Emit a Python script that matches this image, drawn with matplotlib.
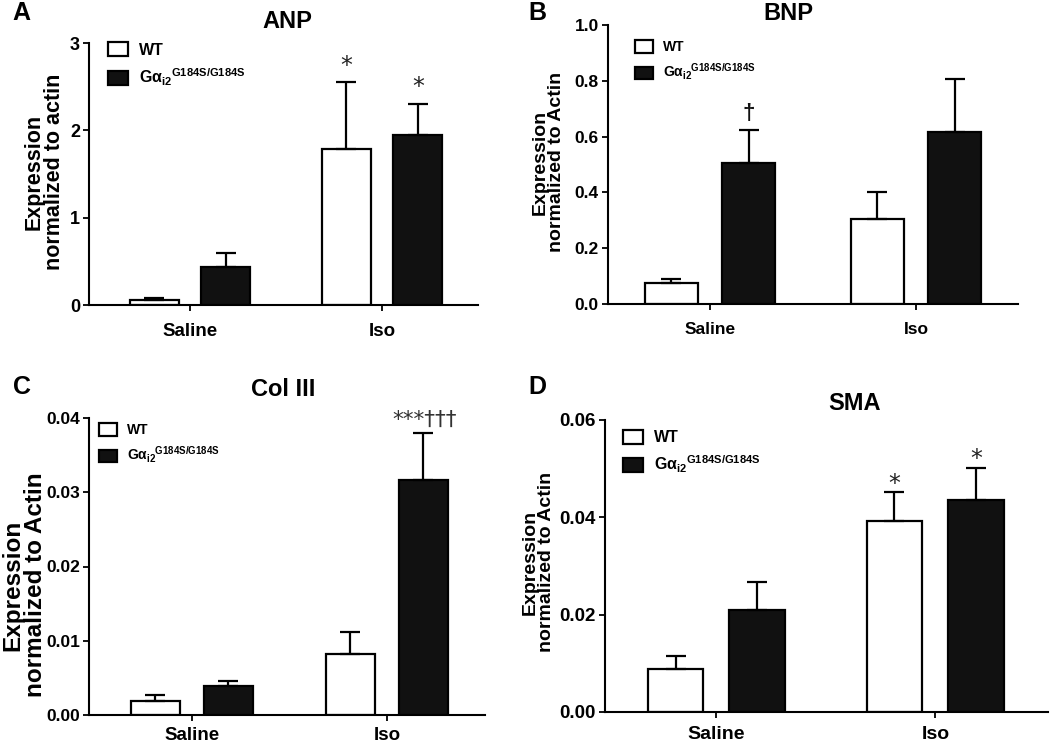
import matplotlib
matplotlib.use("Agg")
import matplotlib.pyplot as plt
import numpy as np

plt.rcParams['font.family'] = ['Liberation Sans', 'DejaVu Sans']
plt.rcParams['font.weight'] = 'bold'
plt.rcParams['mathtext.fontset'] = 'custom'
plt.rcParams['mathtext.rm'] = 'Liberation Sans:bold'
plt.rcParams['mathtext.it'] = 'Liberation Sans:bold'
plt.rcParams['mathtext.bf'] = 'Liberation Sans:bold'
plt.rcParams['mathtext.sf'] = 'Liberation Sans:bold'

groups = ['Saline', 'Iso']
series_labels = ['WT', r'G$\alpha_{\mathrm{i2}}$$^{\mathrm{G184S/G184S}}$']

# Panel A: ANP
anp_wt = [0.06, 1.79]
anp_wt_sem = [0.02, 0.76]
anp_mut = [0.44, 1.95]
anp_mut_sem = [0.16, 0.35]
anp_ticks = [0, 1, 2, 3]
anp_ticklabels = ['0', '1', '2', '3']

# Panel B: BNP
bnp_wt = [0.075, 0.305]
bnp_wt_sem = [0.013, 0.095]
bnp_mut = [0.505, 0.615]
bnp_mut_sem = [0.12, 0.19]
bnp_ticks = [0.0, 0.2, 0.4, 0.6, 0.8, 1.0]
bnp_ticklabels = ['0.0', '0.2', '0.4', '0.6', '0.8', '1.0']

# Panel C: Col III
col_wt = [0.0019, 0.0082]
col_wt_sem = [0.0008, 0.0030]
col_mut = [0.0039, 0.0316]
col_mut_sem = [0.0007, 0.0064]
col_ticks = [0.0, 0.01, 0.02, 0.03, 0.04]
col_ticklabels = ['0.00', '0.01', '0.02', '0.03', '0.04']

# Panel D: SMA
sma_wt = [0.0088, 0.0392]
sma_wt_sem = [0.0027, 0.0060]
sma_mut = [0.021, 0.0435]
sma_mut_sem = [0.0058, 0.0067]
sma_ticks = [0.0, 0.02, 0.04, 0.06]
sma_ticklabels = ['0.00', '0.02', '0.04', '0.06']

# significance marks: (series index, group index, text)
anp_marks = [(0, 1, '*'), (1, 1, '*')]
bnp_marks = [(1, 0, '\u2020')]
col_marks = [(1, 1, '***\u2020\u2020\u2020')]
sma_marks = [(0, 1, '*'), (1, 1, '*')]

W, H = 1050, 745
fig = plt.figure(figsize=(W / 100, H / 100), dpi=100)


def px_rect(left, top, right, bottom):
    return [left / W, 1 - bottom / H, (right - left) / W, (bottom - top) / H]


panels = [
    dict(letter='A', title='ANP', rect=(89, 43, 478, 305), xlim=(-0.526, 1.50),
         wt=anp_wt, wts=anp_wt_sem, mu=anp_mut, mus=anp_mut_sem,
         ticks=anp_ticks, tl=anp_ticklabels, ylim=3,
         ylabel='Expression\nnormalized to actin', ylx=44, yly=172, ylfs=15.5,
         tpos=(287, 22), lpos=(21, 13), marks=anp_marks, mark_off=7, tfs=13, xfs=13.5,
         legfs=11.5, legloc=(0.025, 1.04), hl=1.25, xpad=9),
    dict(letter='B', title='BNP', rect=(608, 25, 1018, 304), xlim=(-0.495, 1.495),
         wt=bnp_wt, wts=bnp_wt_sem, mu=bnp_mut, mus=bnp_mut_sem,
         ticks=bnp_ticks, tl=bnp_ticklabels, ylim=1.0,
         ylabel='Expression\nnormalized to Actin', ylx=548, yly=162, ylfs=14,
         tpos=(788, 13), lpos=(537, 13), marks=bnp_marks, mark_off=8, tfs=12.5, xfs=12.5,
         legfs=10, legloc=(0.045, 0.975), hl=1.3, xpad=9),
    dict(letter='C', title='Col III', rect=(89, 418, 485, 715), xlim=(-0.528, 1.503),
         wt=col_wt, wts=col_wt_sem, mu=col_mut, mus=col_mut_sem,
         ticks=col_ticks, tl=col_ticklabels, ylim=0.04,
         ylabel='Expression\nnormalized to Actin', ylx=24, yly=585, ylfs=17.5,
         tpos=(283, 390), lpos=(22, 387), marks=col_marks, mark_off=5, tfs=12.5, xfs=13.5,
         legfs=10, legloc=(0.005, 1.01), hl=1.3, xpad=4.5),
    dict(letter='D', title='SMA', rect=(605, 420, 1048, 712), xlim=(-0.509, 1.514),
         wt=sma_wt, wts=sma_wt_sem, mu=sma_mut, mus=sma_mut_sem,
         ticks=sma_ticks, tl=sma_ticklabels, ylim=0.06,
         ylabel='Expression\nnormalized to Actin', ylx=538, yly=562, ylfs=14,
         tpos=(855, 404), lpos=(537, 387), marks=sma_marks, mark_off=1, tfs=13.5, xfs=14,
         legfs=11.5, legloc=(0.02, 1.0), hl=1.2, xpad=6),
]

offset = 0.187
width = 0.255
x = np.arange(len(groups))

for p in panels:
    ax = fig.add_axes(px_rect(*p['rect']))
    ax.bar(x - offset, p['wt'], width, color='white', edgecolor='black',
           linewidth=1.6, label=series_labels[0], zorder=2,
           yerr=[np.zeros(len(x)), p['wts']],
           error_kw=dict(ecolor='black', elinewidth=1.6, capsize=7.5, capthick=1.6))
    ax.bar(x + offset, p['mu'], width, color='#111111', edgecolor='black',
           linewidth=1.6, label=series_labels[1], zorder=2,
           yerr=[np.zeros(len(x)), p['mus']],
           error_kw=dict(ecolor='black', elinewidth=1.6, capsize=7.5, capthick=1.6))
    ax.set_xlim(*p['xlim'])
    ax.set_ylim(0, p['ylim'])
    ax.set_yticks(p['ticks'])
    ax.set_yticklabels(p['tl'], fontsize=p['tfs'], fontweight='bold')
    ax.set_xticks(x)
    ax.set_xticklabels(groups, fontsize=p['xfs'], fontweight='bold')
    for s in ['top', 'right']:
        ax.spines[s].set_visible(False)
    for s in ['left', 'bottom']:
        ax.spines[s].set_linewidth(1.5)
    ax.tick_params(axis='both', width=1.3, length=4, direction='out')
    ax.tick_params(axis='y', pad=2.5)
    ax.tick_params(axis='x', pad=p['xpad'])
    ax.patch.set_alpha(0)

    leg = ax.legend(loc='upper left', bbox_to_anchor=p['legloc'], frameon=False,
                    fontsize=p['legfs'], handlelength=p['hl'], handleheight=1.0,
                    handletextpad=0.7, labelspacing=0.55, borderaxespad=0.2)
    for t in leg.get_texts():
        t.set_fontweight('bold')

    means = [p['wt'], p['mu']]
    sems = [p['wts'], p['mus']]
    for si, gi, txt in p['marks']:
        top = means[si][gi] + sems[si][gi]
        xx = x[gi] + (offset if si == 1 else -offset)
        if txt == '*':
            ax.annotate(txt, (xx, top), xytext=(0, p['mark_off']), textcoords='offset points',
                        ha='center', va='baseline', fontsize=17,
                        fontweight='normal', family='DejaVu Sans', color='#222222')
        elif txt == '\u2020':
            ax.annotate(txt, (xx, top), xytext=(0, p['mark_off']), textcoords='offset points',
                        ha='center', va='baseline', fontsize=16,
                        fontweight='bold', color='#111111')
        else:
            ax.annotate(txt, (xx, top), xytext=(1, p['mark_off']), textcoords='offset points',
                        ha='center', va='baseline', fontsize=15.5,
                        fontweight='normal', family='DejaVu Sans', color='#333333')

    fig.text(p['ylx'] / W, 1 - p['yly'] / H, p['ylabel'], rotation=90,
             ha='center', va='center', fontsize=p['ylfs'], fontweight='bold',
             linespacing=0.95, multialignment='center')
    fig.text(p['tpos'][0] / W, 1 - p['tpos'][1] / H, p['title'], ha='center',
             va='center', fontsize=17, fontweight='bold')
    fig.text(p['lpos'][0] / W, 1 - p['lpos'][1] / H, p['letter'], ha='center',
             va='center', fontsize=18, fontweight='bold')

fig.savefig('out.png', dpi=100)
